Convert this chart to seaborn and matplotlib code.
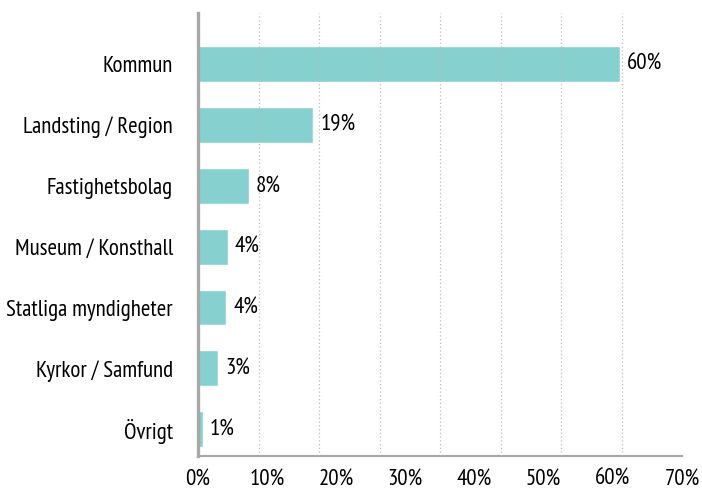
import matplotlib
matplotlib.use("Agg")
import matplotlib.pyplot as plt
import seaborn as sns
import pandas as pd
from matplotlib.ticker import FixedLocator

categories = ["Kommun", "Landsting / Region", "Fastighetsbolag", "Museum / Konsthall",
              "Statliga myndigheter", "Kyrkor / Samfund", "Övrigt"]
values = [61.0, 16.7, 7.4, 4.3, 4.1, 2.9, 0.7]
value_labels = ["60%", "19%", "8%", "4%", "4%", "3%", "1%"]
tick_values = [0, 10, 20, 30, 40, 50, 60, 70]
tick_labels = ["0%", "10%", "20%", "30%", "40%", "50%", "60%", "70%"]

sns.set_theme(style="white")
plt.rcParams["font.family"] = ["PT Sans Narrow", "DejaVu Sans"]

df = pd.DataFrame({"cat": categories, "val": values})

fig = plt.figure(figsize=(7.02, 4.90), dpi=100)
ax = fig.add_axes([198 / 702, 1 - 456 / 490, (682 - 198) / 702, (456 - 13) / 490])
sns.barplot(data=df, x="val", y="cat", color="#86d0d0", saturation=1, width=0.59, ax=ax)

ax.set_xlim(0, 70)
ax.set_ylim(6.44, -0.84)
ax.xaxis.set_major_locator(FixedLocator(tick_values))
ax.set_xticklabels(tick_labels)
ax.xaxis.set_minor_locator(FixedLocator([70 / 8 * k for k in range(1, 9)]))
ax.grid(False)
ax.grid(which="minor", axis="x", color="#bbbbbb", linestyle=(0, (1, 2)), linewidth=0.9)
ax.set_axisbelow(False)
for b in ax.patches:
    b.set_zorder(1)
ax.tick_params(axis="x", which="both", length=0, pad=9, labelsize=16.5, colors="black")
ax.tick_params(axis="y", length=0, pad=18, labelsize=16.5, colors="black")
ax.set_xlabel("")
ax.set_ylabel("")
for s in ["top", "right"]:
    ax.spines[s].set_visible(False)
ax.spines["left"].set_color("#a8a8a8")
ax.spines["left"].set_linewidth(2.4)
ax.spines["bottom"].set_color("#a8a8a8")
ax.spines["bottom"].set_linewidth(1.6)

for i, (v, lab) in enumerate(zip(values, value_labels)):
    ax.annotate(lab, xy=(v, i), xytext=(5, 0), textcoords="offset points",
                va="center", ha="left", fontsize=16.5, color="black")

fig.savefig("out.png", dpi=100)
